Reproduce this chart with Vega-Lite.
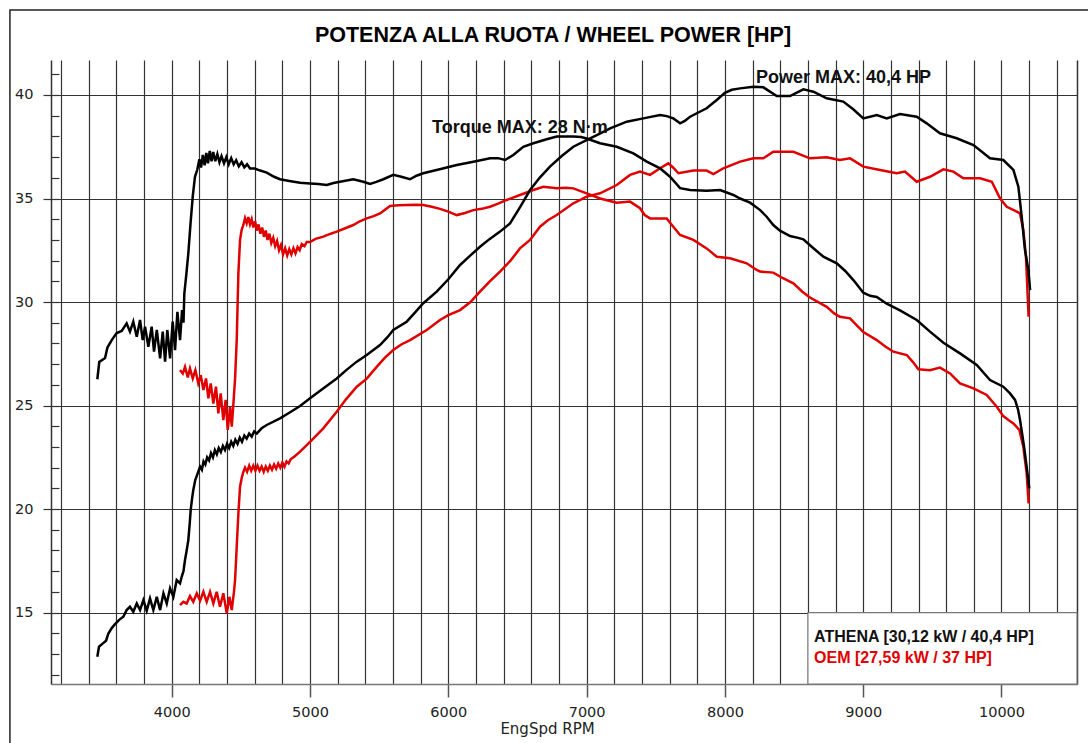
{
"$schema":"https://vega.github.io/schema/vega-lite/v6.json",
"width":1026,"height":624,
"autosize":{"type":"none"},
"padding":{"left":51,"top":60,"right":11,"bottom":59},
"background":"white",
"title":{"text":"POTENZA ALLA RUOTA / WHEEL POWER [HP]","font":"Liberation Sans","fontSize":21.5,"fontWeight":"bold","color":"#000","anchor":"middle","frame":"group","baseline":"alphabetic","offset":17,"dy":71,"dx":-11},
"config":{"view":{"stroke":null},"axis":{"labelFont":"DejaVu Sans","labelFontSize":14.5,"labelColor":"#222","titleFont":"DejaVu Sans","titleFontSize":15,"titleFontWeight":"normal","titleColor":"#222"}},
"datasets":{
"frame":[{"x1":2830,"x2":12000,"y1":44.1,"y2":-5}],
"box":[{"x1":8600,"x2":10546,"y1":11.55,"y2":15}],
"annot":[{"text":"Power MAX: 40,4 HP","rpm":8225,"hp":40.59},{"text":"Torque MAX: 28 N·m","rpm":5882,"hp":38.18}],
"legend":[{"text":"ATHENA [30,12 kW / 40,4 HP]","run":"ATHENA","rpm":8645,"hp":13.57},{"text":"OEM [27,59 kW / 37 HP]","run":"OEM","rpm":8645,"hp":12.56}],
"at":[{"rpm":3462,"hp":26.27},{"rpm":3476,"hp":27.1},{"rpm":3518,"hp":27.3},{"rpm":3535,"hp":27.8},{"rpm":3566,"hp":28.16},{"rpm":3602,"hp":28.5},{"rpm":3638,"hp":28.6},{"rpm":3674,"hp":28.97},{"rpm":3698,"hp":28.57},{"rpm":3722,"hp":29.05},{"rpm":3747,"hp":28.32},{"rpm":3771,"hp":29.13},{"rpm":3790,"hp":28.16},{"rpm":3807,"hp":28.81},{"rpm":3831,"hp":27.84},{"rpm":3855,"hp":28.81},{"rpm":3872,"hp":27.6},{"rpm":3892,"hp":28.65},{"rpm":3916,"hp":27.28},{"rpm":3935,"hp":28.57},{"rpm":3952,"hp":27.12},{"rpm":3968,"hp":28.65},{"rpm":3988,"hp":27.28},{"rpm":4007,"hp":29.05},{"rpm":4024,"hp":27.68},{"rpm":4041,"hp":29.53},{"rpm":4060,"hp":28.16},{"rpm":4075,"hp":29.61},{"rpm":4085,"hp":29.0},{"rpm":4091,"hp":30.4},{"rpm":4105,"hp":31.3},{"rpm":4120,"hp":32.35},{"rpm":4136,"hp":33.8},{"rpm":4152,"hp":35.1},{"rpm":4168,"hp":36.05},{"rpm":4185,"hp":36.4},{"rpm":4200,"hp":36.9},{"rpm":4212,"hp":36.5},{"rpm":4225,"hp":37.1},{"rpm":4238,"hp":36.6},{"rpm":4250,"hp":37.2},{"rpm":4262,"hp":36.7},{"rpm":4275,"hp":37.3},{"rpm":4288,"hp":36.8},{"rpm":4300,"hp":37.25},{"rpm":4315,"hp":36.8},{"rpm":4330,"hp":37.15},{"rpm":4345,"hp":36.75},{"rpm":4360,"hp":37.05},{"rpm":4378,"hp":36.7},{"rpm":4395,"hp":37.0},{"rpm":4412,"hp":36.65},{"rpm":4430,"hp":36.95},{"rpm":4448,"hp":36.65},{"rpm":4466,"hp":36.85},{"rpm":4485,"hp":36.55},{"rpm":4505,"hp":36.75},{"rpm":4525,"hp":36.5},{"rpm":4545,"hp":36.65},{"rpm":4566,"hp":36.45},{"rpm":4600,"hp":36.45},{"rpm":4640,"hp":36.35},{"rpm":4687,"hp":36.25},{"rpm":4740,"hp":36.05},{"rpm":4783,"hp":35.93},{"rpm":4850,"hp":35.85},{"rpm":4928,"hp":35.76},{"rpm":5000,"hp":35.73},{"rpm":5060,"hp":35.7},{"rpm":5121,"hp":35.65},{"rpm":5170,"hp":35.75},{"rpm":5217,"hp":35.81},{"rpm":5313,"hp":35.93},{"rpm":5385,"hp":35.81},{"rpm":5434,"hp":35.7},{"rpm":5480,"hp":35.8},{"rpm":5530,"hp":35.93},{"rpm":5602,"hp":36.14},{"rpm":5660,"hp":36.05},{"rpm":5723,"hp":35.93},{"rpm":5770,"hp":36.1},{"rpm":5819,"hp":36.22},{"rpm":5915,"hp":36.38},{"rpm":5960,"hp":36.45},{"rpm":6061,"hp":36.62},{"rpm":6181,"hp":36.78},{"rpm":6302,"hp":36.94},{"rpm":6360,"hp":36.95},{"rpm":6410,"hp":36.86},{"rpm":6470,"hp":37.1},{"rpm":6542,"hp":37.5},{"rpm":6615,"hp":37.67},{"rpm":6711,"hp":37.86},{"rpm":6784,"hp":37.99},{"rpm":6904,"hp":37.99},{"rpm":6960,"hp":37.97},{"rpm":7000,"hp":37.9},{"rpm":7097,"hp":37.67},{"rpm":7218,"hp":37.5},{"rpm":7338,"hp":37.18},{"rpm":7435,"hp":36.78},{"rpm":7531,"hp":36.46},{"rpm":7603,"hp":36.05},{"rpm":7676,"hp":35.5},{"rpm":7748,"hp":35.41},{"rpm":7868,"hp":35.38},{"rpm":7965,"hp":35.41},{"rpm":8061,"hp":35.17},{"rpm":8110,"hp":35.0},{"rpm":8182,"hp":34.8},{"rpm":8255,"hp":34.44},{"rpm":8302,"hp":34.12},{"rpm":8350,"hp":33.72},{"rpm":8398,"hp":33.45},{"rpm":8471,"hp":33.19},{"rpm":8530,"hp":33.1},{"rpm":8567,"hp":33.03},{"rpm":8640,"hp":32.6},{"rpm":8712,"hp":32.19},{"rpm":8809,"hp":31.87},{"rpm":8870,"hp":31.5},{"rpm":8929,"hp":31.06},{"rpm":9001,"hp":30.45},{"rpm":9050,"hp":30.3},{"rpm":9098,"hp":30.24},{"rpm":9170,"hp":29.92},{"rpm":9266,"hp":29.6},{"rpm":9387,"hp":29.13},{"rpm":9483,"hp":28.57},{"rpm":9580,"hp":28.03},{"rpm":9700,"hp":27.52},{"rpm":9821,"hp":26.96},{"rpm":9917,"hp":26.23},{"rpm":10013,"hp":25.91},{"rpm":10060,"hp":25.6},{"rpm":10098,"hp":25.27},{"rpm":10120,"hp":24.8},{"rpm":10134,"hp":24.3},{"rpm":10150,"hp":23.6},{"rpm":10165,"hp":22.93},{"rpm":10182,"hp":22.04},{"rpm":10201,"hp":21.0}],
"ap":[{"rpm":3462,"hp":12.87},{"rpm":3474,"hp":13.35},{"rpm":3500,"hp":13.5},{"rpm":3525,"hp":13.64},{"rpm":3542,"hp":13.99},{"rpm":3566,"hp":14.25},{"rpm":3590,"hp":14.44},{"rpm":3620,"hp":14.65},{"rpm":3650,"hp":14.8},{"rpm":3674,"hp":15.12},{"rpm":3698,"hp":15.28},{"rpm":3722,"hp":15.04},{"rpm":3747,"hp":15.44},{"rpm":3771,"hp":15.12},{"rpm":3795,"hp":15.6},{"rpm":3819,"hp":15.09},{"rpm":3843,"hp":15.68},{"rpm":3867,"hp":15.12},{"rpm":3892,"hp":15.76},{"rpm":3916,"hp":15.12},{"rpm":3940,"hp":15.93},{"rpm":3964,"hp":15.44},{"rpm":3988,"hp":16.17},{"rpm":4012,"hp":15.76},{"rpm":4036,"hp":16.57},{"rpm":4060,"hp":16.41},{"rpm":4072,"hp":16.73},{"rpm":4085,"hp":17.0},{"rpm":4096,"hp":17.54},{"rpm":4108,"hp":18.0},{"rpm":4120,"hp":18.5},{"rpm":4130,"hp":19.3},{"rpm":4137,"hp":19.95},{"rpm":4147,"hp":20.5},{"rpm":4156,"hp":20.92},{"rpm":4170,"hp":21.4},{"rpm":4192,"hp":21.8},{"rpm":4205,"hp":22.05},{"rpm":4218,"hp":21.9},{"rpm":4230,"hp":22.3},{"rpm":4243,"hp":22.15},{"rpm":4256,"hp":22.5},{"rpm":4270,"hp":22.35},{"rpm":4284,"hp":22.7},{"rpm":4298,"hp":22.5},{"rpm":4312,"hp":22.85},{"rpm":4326,"hp":22.65},{"rpm":4340,"hp":22.95},{"rpm":4355,"hp":22.75},{"rpm":4370,"hp":23.05},{"rpm":4385,"hp":22.85},{"rpm":4400,"hp":23.15},{"rpm":4415,"hp":22.95},{"rpm":4430,"hp":23.25},{"rpm":4445,"hp":23.05},{"rpm":4460,"hp":23.35},{"rpm":4476,"hp":23.15},{"rpm":4492,"hp":23.45},{"rpm":4508,"hp":23.25},{"rpm":4525,"hp":23.55},{"rpm":4542,"hp":23.4},{"rpm":4560,"hp":23.65},{"rpm":4578,"hp":23.5},{"rpm":4596,"hp":23.75},{"rpm":4615,"hp":23.65},{"rpm":4650,"hp":23.9},{"rpm":4687,"hp":24.06},{"rpm":4783,"hp":24.38},{"rpm":4850,"hp":24.65},{"rpm":4928,"hp":24.98},{"rpm":5000,"hp":25.35},{"rpm":5100,"hp":25.85},{"rpm":5193,"hp":26.31},{"rpm":5260,"hp":26.7},{"rpm":5338,"hp":27.12},{"rpm":5410,"hp":27.44},{"rpm":5506,"hp":27.92},{"rpm":5560,"hp":28.3},{"rpm":5602,"hp":28.65},{"rpm":5699,"hp":29.05},{"rpm":5760,"hp":29.5},{"rpm":5819,"hp":29.94},{"rpm":5916,"hp":30.5},{"rpm":6000,"hp":31.1},{"rpm":6085,"hp":31.79},{"rpm":6160,"hp":32.25},{"rpm":6229,"hp":32.67},{"rpm":6300,"hp":33.05},{"rpm":6374,"hp":33.4},{"rpm":6446,"hp":33.8},{"rpm":6520,"hp":34.6},{"rpm":6591,"hp":35.41},{"rpm":6660,"hp":36.0},{"rpm":6735,"hp":36.54},{"rpm":6820,"hp":37.05},{"rpm":6904,"hp":37.5},{"rpm":7025,"hp":37.9},{"rpm":7100,"hp":38.15},{"rpm":7170,"hp":38.39},{"rpm":7290,"hp":38.71},{"rpm":7410,"hp":38.87},{"rpm":7531,"hp":39.03},{"rpm":7580,"hp":38.98},{"rpm":7627,"hp":38.87},{"rpm":7676,"hp":38.63},{"rpm":7710,"hp":38.75},{"rpm":7748,"hp":38.95},{"rpm":7868,"hp":39.36},{"rpm":7941,"hp":39.76},{"rpm":8000,"hp":40.1},{"rpm":8050,"hp":40.25},{"rpm":8110,"hp":40.32},{"rpm":8206,"hp":40.4},{"rpm":8278,"hp":40.37},{"rpm":8375,"hp":39.95},{"rpm":8471,"hp":39.95},{"rpm":8567,"hp":40.27},{"rpm":8640,"hp":40.16},{"rpm":8736,"hp":39.84},{"rpm":8856,"hp":39.68},{"rpm":8930,"hp":39.3},{"rpm":9001,"hp":38.87},{"rpm":9098,"hp":39.03},{"rpm":9170,"hp":38.87},{"rpm":9266,"hp":39.08},{"rpm":9387,"hp":38.95},{"rpm":9459,"hp":38.63},{"rpm":9555,"hp":38.15},{"rpm":9676,"hp":37.91},{"rpm":9797,"hp":37.58},{"rpm":9917,"hp":36.94},{"rpm":10013,"hp":36.86},{"rpm":10086,"hp":36.38},{"rpm":10122,"hp":35.57},{"rpm":10146,"hp":34.12},{"rpm":10170,"hp":32.51},{"rpm":10194,"hp":31.55},{"rpm":10207,"hp":30.58}],
"ot":[{"rpm":4060,"hp":26.71},{"rpm":4080,"hp":26.55},{"rpm":4096,"hp":26.87},{"rpm":4116,"hp":26.36},{"rpm":4132,"hp":26.79},{"rpm":4152,"hp":26.31},{"rpm":4171,"hp":26.71},{"rpm":4192,"hp":26.07},{"rpm":4210,"hp":26.47},{"rpm":4229,"hp":25.75},{"rpm":4248,"hp":26.31},{"rpm":4265,"hp":25.35},{"rpm":4282,"hp":26.07},{"rpm":4301,"hp":25.1},{"rpm":4320,"hp":25.91},{"rpm":4337,"hp":24.62},{"rpm":4354,"hp":25.59},{"rpm":4373,"hp":24.3},{"rpm":4390,"hp":25.27},{"rpm":4405,"hp":23.82},{"rpm":4422,"hp":24.94},{"rpm":4434,"hp":23.98},{"rpm":4445,"hp":25.0},{"rpm":4458,"hp":26.3},{"rpm":4470,"hp":28.16},{"rpm":4482,"hp":31.39},{"rpm":4494,"hp":33.0},{"rpm":4506,"hp":33.5},{"rpm":4518,"hp":33.72},{"rpm":4530,"hp":34.05},{"rpm":4542,"hp":33.8},{"rpm":4554,"hp":34.1},{"rpm":4566,"hp":33.75},{"rpm":4578,"hp":34.0},{"rpm":4590,"hp":33.6},{"rpm":4603,"hp":33.9},{"rpm":4615,"hp":33.45},{"rpm":4628,"hp":33.75},{"rpm":4641,"hp":33.3},{"rpm":4654,"hp":33.6},{"rpm":4667,"hp":33.15},{"rpm":4680,"hp":33.45},{"rpm":4693,"hp":33.0},{"rpm":4706,"hp":33.3},{"rpm":4720,"hp":32.85},{"rpm":4734,"hp":33.1},{"rpm":4748,"hp":32.7},{"rpm":4762,"hp":32.95},{"rpm":4776,"hp":32.5},{"rpm":4790,"hp":32.75},{"rpm":4805,"hp":32.3},{"rpm":4820,"hp":32.6},{"rpm":4835,"hp":32.25},{"rpm":4850,"hp":32.55},{"rpm":4865,"hp":32.3},{"rpm":4880,"hp":32.6},{"rpm":4895,"hp":32.35},{"rpm":4910,"hp":32.65},{"rpm":4925,"hp":32.5},{"rpm":4940,"hp":32.8},{"rpm":4960,"hp":32.7},{"rpm":4976,"hp":32.9},{"rpm":5000,"hp":32.9},{"rpm":5040,"hp":33.05},{"rpm":5096,"hp":33.16},{"rpm":5150,"hp":33.3},{"rpm":5193,"hp":33.4},{"rpm":5250,"hp":33.55},{"rpm":5313,"hp":33.72},{"rpm":5360,"hp":33.9},{"rpm":5410,"hp":34.04},{"rpm":5460,"hp":34.15},{"rpm":5506,"hp":34.28},{"rpm":5540,"hp":34.45},{"rpm":5578,"hp":34.64},{"rpm":5640,"hp":34.68},{"rpm":5699,"hp":34.69},{"rpm":5760,"hp":34.7},{"rpm":5819,"hp":34.69},{"rpm":5880,"hp":34.6},{"rpm":5940,"hp":34.5},{"rpm":6000,"hp":34.37},{"rpm":6061,"hp":34.2},{"rpm":6120,"hp":34.3},{"rpm":6181,"hp":34.44},{"rpm":6240,"hp":34.5},{"rpm":6302,"hp":34.6},{"rpm":6360,"hp":34.75},{"rpm":6422,"hp":34.93},{"rpm":6518,"hp":35.17},{"rpm":6615,"hp":35.41},{"rpm":6687,"hp":35.57},{"rpm":6784,"hp":35.49},{"rpm":6850,"hp":35.52},{"rpm":6904,"hp":35.49},{"rpm":7000,"hp":35.25},{"rpm":7097,"hp":35.0},{"rpm":7218,"hp":34.8},{"rpm":7314,"hp":34.85},{"rpm":7386,"hp":34.53},{"rpm":7420,"hp":34.2},{"rpm":7459,"hp":34.04},{"rpm":7579,"hp":34.04},{"rpm":7627,"hp":33.64},{"rpm":7676,"hp":33.24},{"rpm":7772,"hp":33.0},{"rpm":7868,"hp":32.59},{"rpm":7941,"hp":32.19},{"rpm":8037,"hp":32.11},{"rpm":8158,"hp":31.87},{"rpm":8230,"hp":31.55},{"rpm":8254,"hp":31.47},{"rpm":8350,"hp":31.42},{"rpm":8420,"hp":31.15},{"rpm":8495,"hp":30.9},{"rpm":8560,"hp":30.5},{"rpm":8615,"hp":30.22},{"rpm":8736,"hp":29.77},{"rpm":8790,"hp":29.45},{"rpm":8832,"hp":29.29},{"rpm":8905,"hp":29.21},{"rpm":8950,"hp":28.9},{"rpm":9001,"hp":28.55},{"rpm":9098,"hp":28.16},{"rpm":9160,"hp":27.85},{"rpm":9218,"hp":27.6},{"rpm":9315,"hp":27.44},{"rpm":9360,"hp":27.1},{"rpm":9399,"hp":26.75},{"rpm":9483,"hp":26.71},{"rpm":9555,"hp":26.83},{"rpm":9628,"hp":26.55},{"rpm":9700,"hp":26.07},{"rpm":9797,"hp":25.83},{"rpm":9893,"hp":25.51},{"rpm":9966,"hp":24.94},{"rpm":10013,"hp":24.49},{"rpm":10050,"hp":24.3},{"rpm":10086,"hp":24.14},{"rpm":10129,"hp":23.82},{"rpm":10158,"hp":23.01},{"rpm":10182,"hp":21.72},{"rpm":10196,"hp":20.27}],
"op":[{"rpm":4060,"hp":15.36},{"rpm":4084,"hp":15.52},{"rpm":4108,"hp":15.44},{"rpm":4132,"hp":15.8},{"rpm":4156,"hp":15.52},{"rpm":4181,"hp":15.93},{"rpm":4205,"hp":15.57},{"rpm":4229,"hp":16.0},{"rpm":4253,"hp":15.52},{"rpm":4277,"hp":16.0},{"rpm":4301,"hp":15.44},{"rpm":4325,"hp":16.0},{"rpm":4349,"hp":15.28},{"rpm":4373,"hp":15.93},{"rpm":4398,"hp":14.96},{"rpm":4417,"hp":15.76},{"rpm":4434,"hp":15.12},{"rpm":4450,"hp":16.0},{"rpm":4458,"hp":16.57},{"rpm":4470,"hp":18.18},{"rpm":4482,"hp":19.79},{"rpm":4494,"hp":21.08},{"rpm":4506,"hp":21.5},{"rpm":4518,"hp":21.8},{"rpm":4530,"hp":22.0},{"rpm":4545,"hp":21.8},{"rpm":4560,"hp":22.1},{"rpm":4575,"hp":21.85},{"rpm":4590,"hp":22.1},{"rpm":4605,"hp":21.85},{"rpm":4620,"hp":22.1},{"rpm":4635,"hp":21.85},{"rpm":4650,"hp":22.05},{"rpm":4665,"hp":21.8},{"rpm":4680,"hp":22.05},{"rpm":4695,"hp":21.85},{"rpm":4710,"hp":22.1},{"rpm":4725,"hp":21.9},{"rpm":4740,"hp":22.15},{"rpm":4755,"hp":21.95},{"rpm":4770,"hp":22.2},{"rpm":4785,"hp":22.0},{"rpm":4800,"hp":22.25},{"rpm":4815,"hp":22.05},{"rpm":4830,"hp":22.3},{"rpm":4845,"hp":22.2},{"rpm":4860,"hp":22.4},{"rpm":4890,"hp":22.55},{"rpm":4928,"hp":22.77},{"rpm":5000,"hp":23.25},{"rpm":5096,"hp":23.9},{"rpm":5193,"hp":24.7},{"rpm":5260,"hp":25.3},{"rpm":5338,"hp":25.91},{"rpm":5410,"hp":26.3},{"rpm":5482,"hp":26.87},{"rpm":5540,"hp":27.3},{"rpm":5602,"hp":27.68},{"rpm":5660,"hp":27.95},{"rpm":5723,"hp":28.16},{"rpm":5844,"hp":28.65},{"rpm":5940,"hp":29.13},{"rpm":6000,"hp":29.37},{"rpm":6085,"hp":29.61},{"rpm":6160,"hp":30.0},{"rpm":6229,"hp":30.5},{"rpm":6300,"hp":31.0},{"rpm":6374,"hp":31.47},{"rpm":6450,"hp":32.0},{"rpm":6518,"hp":32.59},{"rpm":6591,"hp":33.0},{"rpm":6663,"hp":33.64},{"rpm":6720,"hp":33.95},{"rpm":6784,"hp":34.2},{"rpm":6904,"hp":34.77},{"rpm":7000,"hp":35.09},{"rpm":7097,"hp":35.25},{"rpm":7218,"hp":35.65},{"rpm":7314,"hp":36.14},{"rpm":7386,"hp":36.3},{"rpm":7459,"hp":36.14},{"rpm":7531,"hp":36.46},{"rpm":7591,"hp":36.7},{"rpm":7625,"hp":36.5},{"rpm":7664,"hp":36.22},{"rpm":7772,"hp":36.35},{"rpm":7868,"hp":36.35},{"rpm":7917,"hp":36.18},{"rpm":7989,"hp":36.46},{"rpm":8110,"hp":36.78},{"rpm":8206,"hp":36.94},{"rpm":8278,"hp":36.94},{"rpm":8350,"hp":37.26},{"rpm":8495,"hp":37.26},{"rpm":8615,"hp":36.94},{"rpm":8736,"hp":36.99},{"rpm":8832,"hp":36.86},{"rpm":8905,"hp":36.94},{"rpm":9001,"hp":36.54},{"rpm":9122,"hp":36.38},{"rpm":9242,"hp":36.22},{"rpm":9302,"hp":36.3},{"rpm":9387,"hp":35.81},{"rpm":9483,"hp":36.05},{"rpm":9580,"hp":36.41},{"rpm":9652,"hp":36.3},{"rpm":9724,"hp":35.98},{"rpm":9845,"hp":35.98},{"rpm":9930,"hp":35.81},{"rpm":9990,"hp":35.0},{"rpm":10038,"hp":34.6},{"rpm":10100,"hp":34.4},{"rpm":10134,"hp":34.28},{"rpm":10158,"hp":33.48},{"rpm":10177,"hp":32.19},{"rpm":10196,"hp":29.29}]
},
"resolve":{"axis":{"x":"independent","y":"independent"}},
"layer":[
{"data":{"name":"frame"},"mark":{"type":"rect","filled":false,"stroke":"#222","strokeWidth":1.5,"clip":false},
 "encoding":{
  "x":{"field":"x1","type":"quantitative","scale":{"domain":[3127,10546],"nice":false,"zero":false},
   "axis":{"orient":"bottom","values":[3200,3400,3600,3800,4000,4200,4400,4600,4800,5000,5200,5400,5600,5800,6000,6200,6400,6600,6800,7000,7200,7400,7600,7800,8000,8200,8400,8600,8800,9000,9200,9400,9600,9800,10000,10200,10400],
    "grid":true,"gridColor":"#333","gridWidth":1.2,"domainColor":"#777","domainWidth":1.5,"tickColor":"#555","tickWidth":1.5,"tickSize":13,
    "tickOpacity":{"condition":{"test":"datum.value % 1000 === 0","value":1},"value":0},
    "format":"d","labelExpr":"datum.value % 1000 === 0 ? datum.label : ''","labelOverlap":false,"labelFlush":false,"labelPadding":8,
    "title":"EngSpd RPM","titlePadding":3,"titleX":496}},
  "x2":{"field":"x2"},
  "y":{"field":"y1","type":"quantitative","scale":{"domain":[11.55,41.69],"nice":false,"zero":false},
   "axis":{"orient":"left","values":[15,20,25,30,35,40],"grid":true,"gridColor":"#333","gridWidth":1.2,"domainColor":"#333","domainWidth":1.5,"tickColor":"#333","tickWidth":1.2,"tickSize":8,"labelPadding":10,"title":null}},
  "y2":{"field":"y2"}}},
{"data":{"name":"box"},"mark":{"type":"rect","fill":"white","stroke":"#777","strokeWidth":1.2},
 "encoding":{
  "x":{"field":"x1","type":"quantitative","scale":{"domain":[3127,10546],"nice":false,"zero":false},"axis":null},
  "x2":{"field":"x2"},
  "y":{"field":"y1","type":"quantitative","scale":{"domain":[11.55,41.69],"nice":false,"zero":false},
   "axis":{"orient":"left","values":[12,13,14,15,16,17,18,19,20,21,22,23,24,25,26,27,28,29,30,31,32,33,34,35,36,37,38,39,40,41],"offset":-8,"grid":false,"labels":false,"domain":false,"tickSize":8,"tickColor":"#333","tickWidth":1.2,"title":null}},
  "y2":{"field":"y2"}}},
{"data":{"name":"ot"},"mark":{"type":"line","color":"#e10000","strokeWidth":2.5},
 "encoding":{
  "x":{"field":"rpm","type":"quantitative","scale":{"domain":[3127,10546],"nice":false,"zero":false},"axis":null},
  "y":{"field":"hp","type":"quantitative","scale":{"domain":[11.55,41.69],"nice":false,"zero":false},
   "axis":{"orient":"right","domain":true,"domainColor":"#333","domainWidth":1.5,"ticks":false,"labels":false,"grid":false,"title":null}}}},
{"data":{"name":"op"},"mark":{"type":"line","color":"#e10000","strokeWidth":2.5},
 "encoding":{
  "x":{"field":"rpm","type":"quantitative","scale":{"domain":[3127,10546],"nice":false,"zero":false},"axis":null},
  "y":{"field":"hp","type":"quantitative","scale":{"domain":[11.55,41.69],"nice":false,"zero":false},"axis":null}}},
{"data":{"name":"at"},"mark":{"type":"line","color":"#000000","strokeWidth":2.5},
 "encoding":{
  "x":{"field":"rpm","type":"quantitative","scale":{"domain":[3127,10546],"nice":false,"zero":false},"axis":null},
  "y":{"field":"hp","type":"quantitative","scale":{"domain":[11.55,41.69],"nice":false,"zero":false},"axis":null}}},
{"data":{"name":"ap"},"mark":{"type":"line","color":"#000000","strokeWidth":2.5},
 "encoding":{
  "x":{"field":"rpm","type":"quantitative","scale":{"domain":[3127,10546],"nice":false,"zero":false},"axis":null},
  "y":{"field":"hp","type":"quantitative","scale":{"domain":[11.55,41.69],"nice":false,"zero":false},"axis":null}}},
{"data":{"name":"annot"},"mark":{"type":"text","align":"left","baseline":"alphabetic","font":"Liberation Sans","fontSize":18,"fontWeight":"bold","color":"#111"},
 "encoding":{
  "x":{"field":"rpm","type":"quantitative","scale":{"domain":[3127,10546],"nice":false,"zero":false},"axis":null},
  "y":{"field":"hp","type":"quantitative","scale":{"domain":[11.55,41.69],"nice":false,"zero":false},"axis":null},
  "text":{"field":"text"}}},
{"data":{"name":"legend"},"mark":{"type":"text","align":"left","baseline":"alphabetic","font":"Liberation Sans","fontSize":16,"fontWeight":"bold"},
 "encoding":{
  "x":{"field":"rpm","type":"quantitative","scale":{"domain":[3127,10546],"nice":false,"zero":false},"axis":null},
  "y":{"field":"hp","type":"quantitative","scale":{"domain":[11.55,41.69],"nice":false,"zero":false},"axis":null},
  "text":{"field":"text"},
  "color":{"field":"run","type":"nominal","scale":{"domain":["ATHENA","OEM"],"range":["#111111","#e10000"]},"legend":null}}}
]
}
